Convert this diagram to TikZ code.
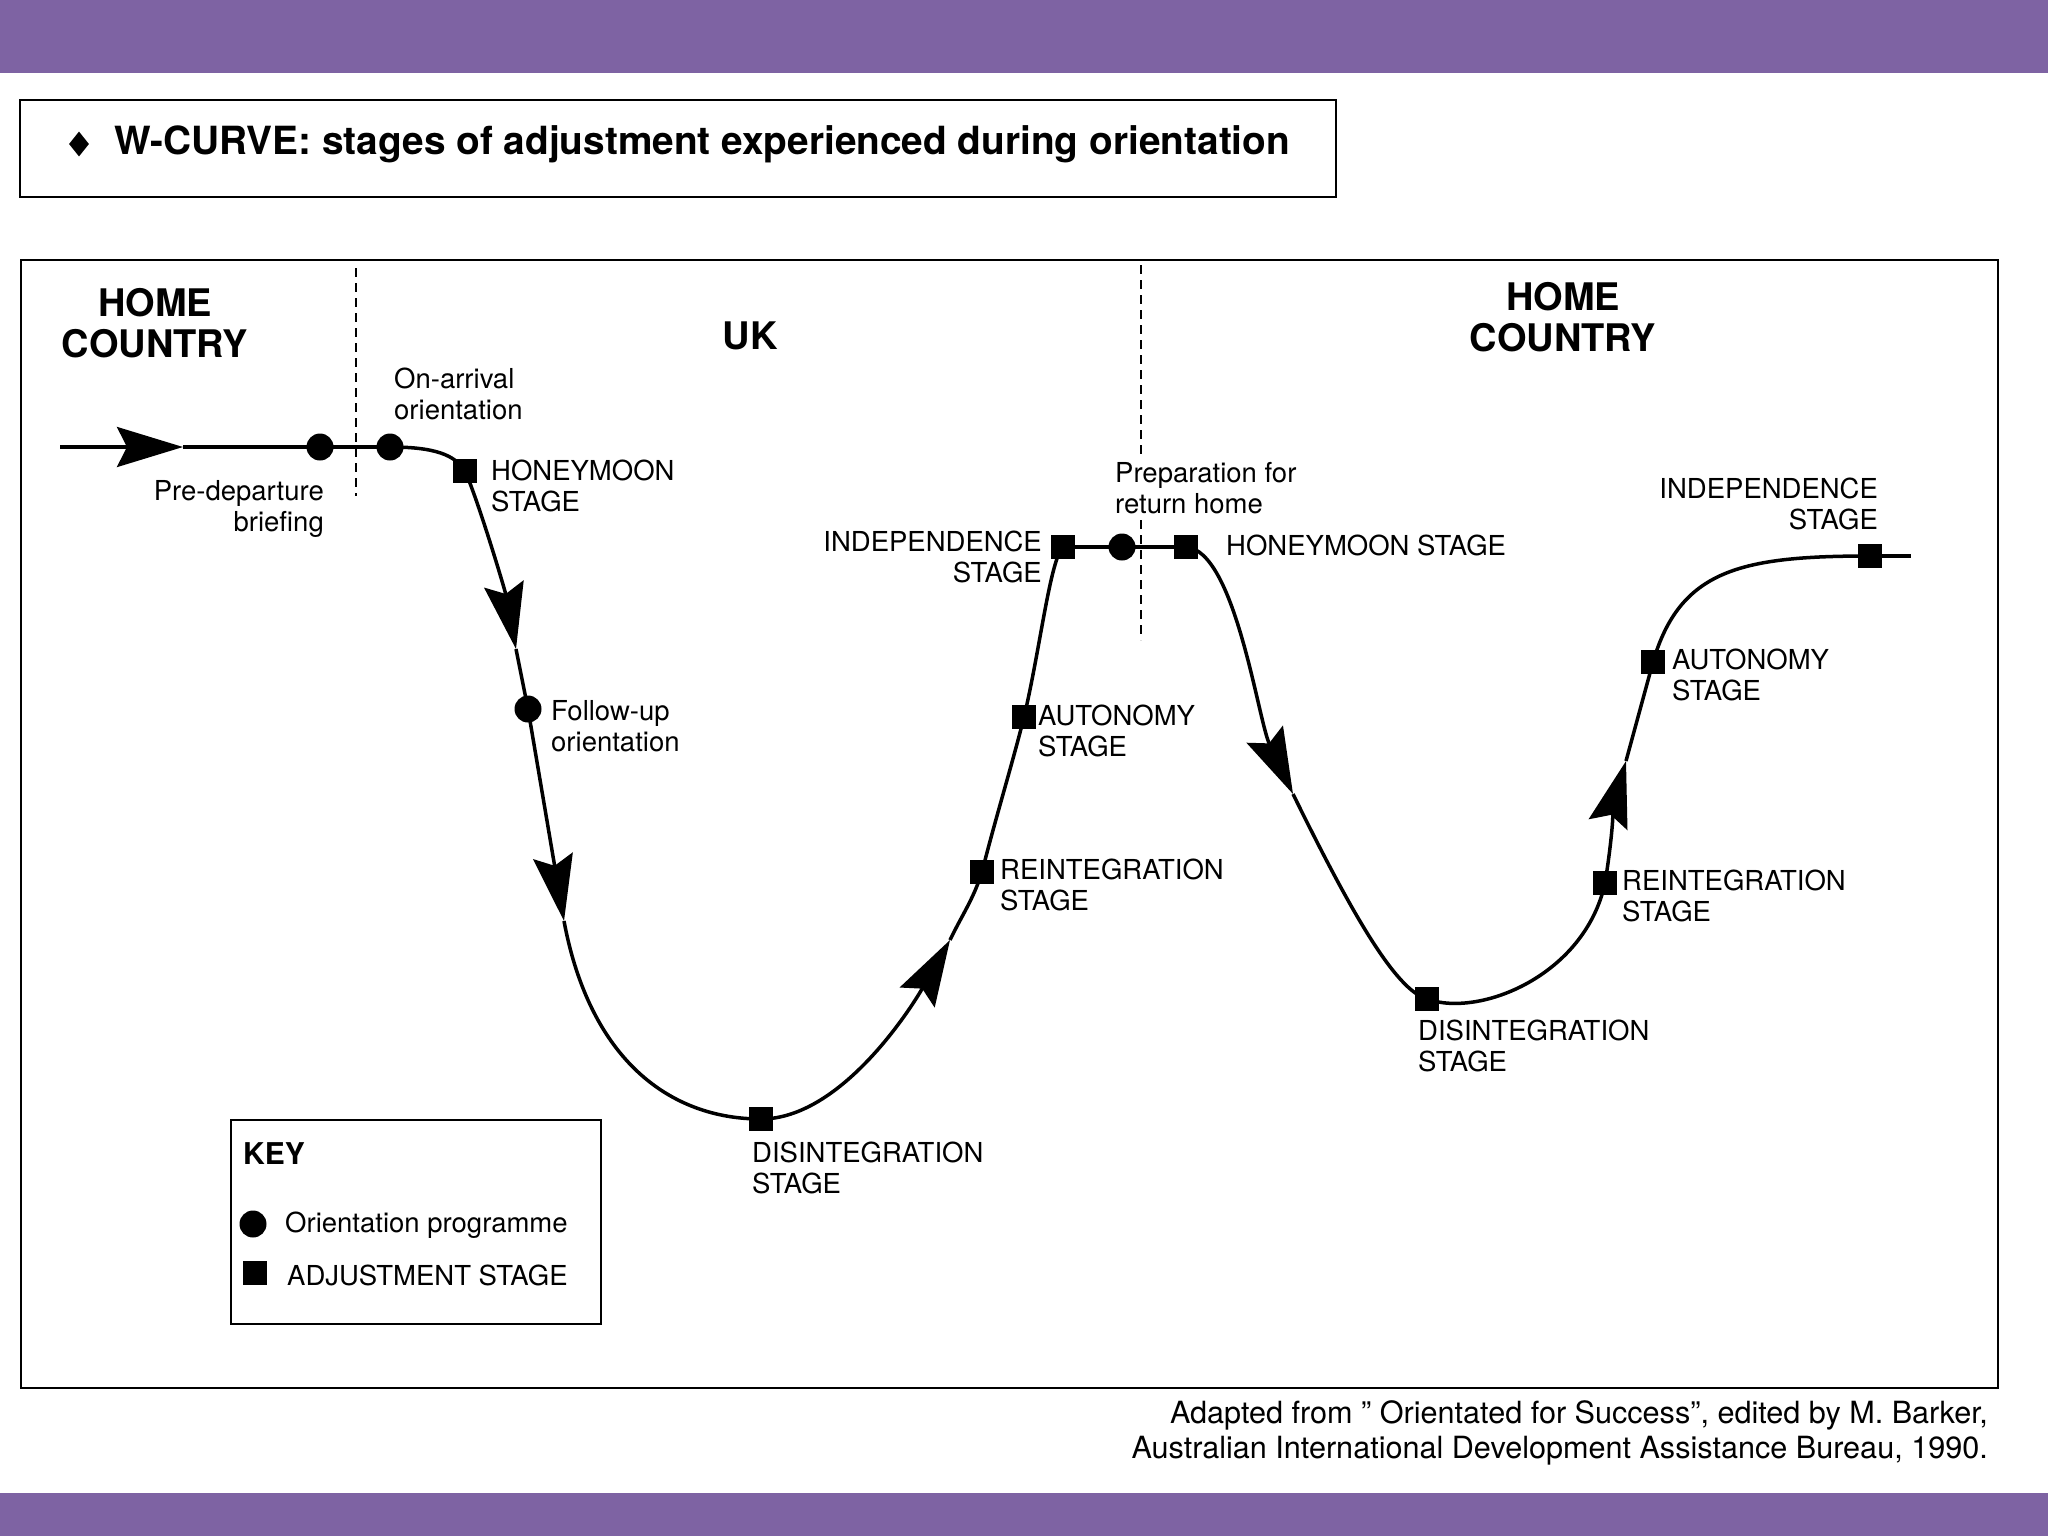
\documentclass[tikz,border=0pt]{standalone}
\usepackage{fontspec}
\setmainfont{TeX Gyre Heros}
\usetikzlibrary{arrows.meta,shapes.geometric}
\definecolor{barpurple}{HTML}{7E63A3}
\pgfdeclarelayer{bg}
\pgfsetlayers{bg,main}

\begin{document}
\begin{tikzpicture}[x=1pt,y=-1pt,
    dot/.style={circle,fill,inner sep=0pt,minimum size=27pt},
    sq/.style={rectangle,fill,inner sep=0pt,minimum size=24pt},
    lbl/.style={inner sep=0pt,align=left,font=\fontsize{27.5}{31}\selectfont},
    hd/.style={inner sep=0pt,align=center,font=\bfseries\fontsize{38}{41.5}\selectfont},
    frame/.style={draw,line width=2pt},
    curve/.style={line width=3.5pt},
    tip/.style={-{Stealth[length=66pt,width=40pt,inset=10pt]}}]

      \useasboundingbox (0,0) rectangle (2048,1536);
      \fill[barpurple] (0,0) rectangle (2048,73);
      \fill[barpurple] (0,1493) rectangle (2048,1536);

      \draw[frame] (20,100) rectangle (1336,197);
      \node[diamond,fill,inner sep=0pt,minimum width=20pt,minimum height=25pt] (bullet) at (79,144) {};
      \node[anchor=west,inner sep=0pt,font=\bfseries\fontsize{38.8}{44}\selectfont] (title) at (114,144)
        {W-CURVE: stages of adjustment experienced during orientation};

      \draw[frame] (21,260) rectangle (1998,1388);
      \draw[line width=1.5pt,dash pattern=on 9pt off 6pt] (356,268) -- (356,496);
      \draw[line width=1.5pt,dash pattern=on 9pt off 6pt] (1141,265) -- (1141,640);

      \node[hd] (home) at (155,323) {HOME\\COUNTRY};
      \node[hd] (uk) at (750,336) {UK};
      \node[hd] (home2) at (1563,317) {HOME\\COUNTRY};

      \foreach \n/\x/\y in {pre/320/447, arr/390/447, fu/528/709, prep/1122/547}
        \node[dot] (\n) at (\x,\y) {};
      \foreach \n/\x/\y in {hm/465/471, dis/761/1119, re/982/872, au/1024/717, ind/1063/547,
                            hm2/1186/547, dis2/1427/999, re2/1605/883, au2/1653/662, ind2/1870/556}
        \node[sq] (\n) at (\x,\y) {};

      \coordinate (s) at (60,447);
      \coordinate (e) at (1911,556);
      \foreach \n/\x/\y in {t1/183/447, t2/516/649, t3/564/921, t4/950/940, t5/1293/794, t6/1626/761}
        \coordinate (\n) at (\x,\y);

      \begin{pgfonlayer}{bg}
        \begin{scope}[curve]
          \draw[tip] (s) -- (t1);
          \draw (t1) -- (arr.center);
          \draw (arr.center) .. controls (435,447) and (455,455) .. (hm.center);
          \draw[tip] (hm.center) .. controls (478,500) and (505,590) .. (t2);
          \draw (t2) -- (fu.center);
          \draw[tip] (fu.center) -- (t3);
          \draw (t3) .. controls (590,1060) and (670,1119) .. (dis.center);
          \draw[tip] (dis.center) .. controls (840,1119) and (910,1010) .. (t4);
          \draw (t4) .. controls (962,915) and (973,900) .. (re.center);
          \draw (re.center) .. controls (995,820) and (1012,765) .. (au.center);
          \draw (au.center) .. controls (1040,650) and (1050,560) .. (ind.center);
          \draw (ind.center) -- (hm2.center);
          \draw[tip] (hm2.center) .. controls (1235,550) and (1258,720) .. (t5);
          \draw (t5) .. controls (1350,910) and (1395,990) .. (dis2.center);
          \draw (dis2.center) .. controls (1480,1018) and (1585,975) .. (re2.center);
          \draw[tip] (re2.center) .. controls (1612,840) and (1615,800) .. (t6);
          \draw (t6) -- (au2.center);
          \draw (au2.center) .. controls (1680,570) and (1740,556) .. (ind2.center);
          \draw (ind2.center) -- (e);
        \end{scope}
      \end{pgfonlayer}

      \node[lbl,anchor=west] (larr) at (394,394) {On-arrival\\orientation};
      \node[lbl,anchor=east,align=right] (lpre) at (324,509) {Pre-departure\\briefing};
      \node[lbl,anchor=west] (lhm) at (491,486) {HONEYMOON\\STAGE};
      \node[lbl,anchor=west] (lfu) at (551,726) {Follow-up\\orientation};
      \node[lbl,anchor=west] (ldis) at (752,1168) {DISINTEGRATION\\STAGE};
      \node[lbl,anchor=west] (lre) at (1000,885) {REINTEGRATION\\STAGE};
      \node[lbl,anchor=west] (lau) at (1038,731) {AUTONOMY\\STAGE};
      \node[lbl,anchor=east,align=right] (lind) at (1042,557) {INDEPENDENCE\\STAGE};
      \node[lbl,anchor=west,fill=white,inner sep=3pt] (lprep) at (1112,488) {Preparation for\\return home};
      \node[lbl,anchor=west] (lhm2) at (1226,545) {HONEYMOON STAGE};
      \node[lbl,anchor=east,align=right] (lind2) at (1878,504) {INDEPENDENCE\\STAGE};
      \node[lbl,anchor=west] (lau2) at (1672,675) {AUTONOMY\\STAGE};
      \node[lbl,anchor=west] (lre2) at (1622,896) {REINTEGRATION\\STAGE};
      \node[lbl,anchor=west] (ldis2) at (1418,1046) {DISINTEGRATION\\STAGE};

      \draw[frame] (231,1120) rectangle (601,1324);
      \node[anchor=west,inner sep=0pt,font=\bfseries\fontsize{30}{34}\selectfont] (key) at (243,1154) {KEY};
      \node[dot] (kdot) at (253,1224) {};
      \node[lbl,anchor=west] (kdott) at (285,1225) {Orientation programme};
      \node[sq] (ksq) at (255,1273) {};
      \node[lbl,anchor=west] (ksqt) at (287,1275) {ADJUSTMENT STAGE};

      \node[anchor=east,align=right,inner sep=0pt,font=\fontsize{30.6}{35}\selectfont] (src) at (1988,1433)
        {Adapted from " Orientated for Success", edited by M. Barker,\\
         Australian International Development Assistance Bureau, 1990.};

\end{tikzpicture}
\end{document}
